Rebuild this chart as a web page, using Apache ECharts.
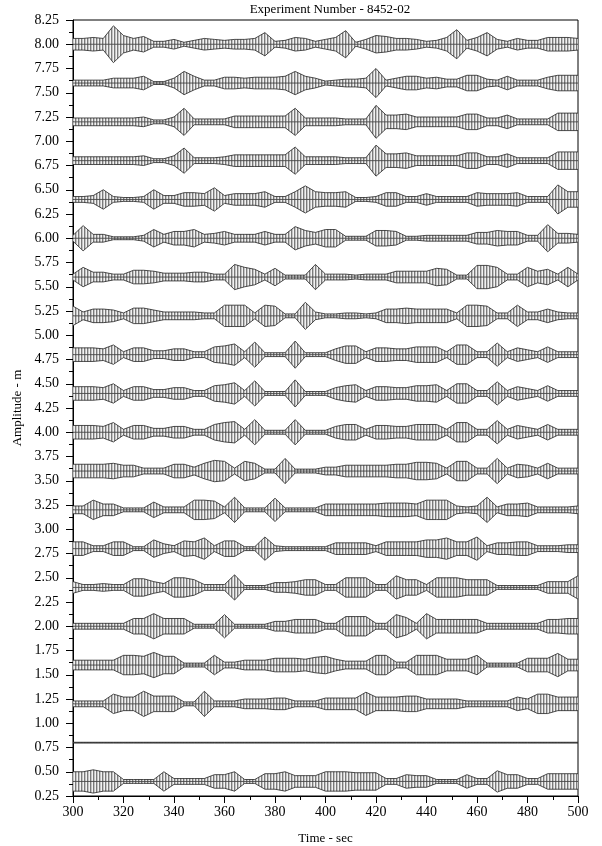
<!DOCTYPE html>
<html><head><meta charset="utf-8">
<script src="https://cdn.jsdelivr.net/npm/echarts@6/dist/echarts.min.js"></script>
<style>html,body{margin:0;padding:0;background:#fff}#c{width:602px;height:846px}</style>
</head><body><div id="c"></div>
<script>
// time samples (sec)
var times = [300,304,308,312,316,320,324,328,332,336,340,344,348,352,356,360,364,368,372,376,380,384,388,392,396,400,404,408,412,416,420,424,428,432,436,440,444,448,452,456,460,464,468,472,476,480,484,488,492,496,500];
// trace baselines (m)
var offsets = [8.0,7.6,7.2,6.8,6.4,6.0,5.6,5.2,4.8,4.4,4.0,3.6,3.2,2.8,2.4,2.0,1.6,1.2,0.8,0.4];
// envelope half-amplitudes (m)
var amp800 = [0.06,0.06,0.07,0.06,0.19,0.09,0.06,0.08,0.03,0.03,0.05,0.02,0.04,0.06,0.05,0.04,0.05,0.05,0.06,0.12,0.03,0.04,0.07,0.06,0.03,0.05,0.07,0.14,0.02,0.05,0.09,0.08,0.06,0.06,0.05,0.03,0.04,0.07,0.15,0.04,0.07,0.12,0.05,0.03,0.06,0.04,0.04,0.07,0.07,0.07,0.06];
var amp760 = [0.03,0.03,0.03,0.03,0.05,0.05,0.05,0.07,0.015,0.015,0.05,0.12,0.07,0.03,0.03,0.06,0.06,0.05,0.06,0.06,0.06,0.07,0.12,0.07,0.05,0.02,0.03,0.04,0.04,0.05,0.15,0.03,0.05,0.07,0.07,0.05,0.06,0.04,0.04,0.08,0.08,0.04,0.03,0.07,0.03,0.03,0.03,0.06,0.08,0.08,0.08];
var amp720 = [0.04,0.04,0.04,0.04,0.04,0.04,0.04,0.05,0.02,0.02,0.05,0.14,0.03,0.03,0.03,0.03,0.06,0.06,0.06,0.06,0.06,0.06,0.14,0.04,0.04,0.04,0.04,0.03,0.03,0.03,0.17,0.07,0.07,0.08,0.05,0.05,0.05,0.05,0.05,0.08,0.08,0.04,0.04,0.07,0.03,0.03,0.03,0.03,0.09,0.09,0.09];
var amp680 = [0.04,0.04,0.04,0.04,0.04,0.04,0.04,0.05,0.02,0.02,0.05,0.13,0.03,0.03,0.03,0.04,0.06,0.06,0.06,0.06,0.06,0.06,0.14,0.04,0.04,0.04,0.04,0.03,0.03,0.03,0.16,0.07,0.07,0.08,0.05,0.05,0.05,0.05,0.05,0.08,0.08,0.04,0.04,0.07,0.03,0.03,0.03,0.03,0.09,0.09,0.09];
var amp640 = [0.03,0.03,0.04,0.10,0.03,0.02,0.02,0.03,0.10,0.04,0.04,0.07,0.07,0.06,0.12,0.04,0.06,0.06,0.06,0.08,0.03,0.03,0.08,0.14,0.08,0.07,0.07,0.08,0.02,0.02,0.03,0.07,0.07,0.03,0.03,0.06,0.03,0.03,0.03,0.03,0.07,0.06,0.06,0.06,0.07,0.03,0.03,0.03,0.15,0.08,0.08];
var amp600 = [0.03,0.13,0.04,0.04,0.015,0.015,0.015,0.03,0.09,0.04,0.07,0.07,0.09,0.04,0.05,0.07,0.04,0.04,0.04,0.07,0.04,0.04,0.12,0.08,0.06,0.09,0.09,0.02,0.02,0.02,0.08,0.08,0.07,0.02,0.02,0.03,0.03,0.03,0.03,0.03,0.06,0.06,0.08,0.07,0.07,0.03,0.03,0.14,0.05,0.05,0.04];
var amp560 = [0.03,0.10,0.05,0.05,0.03,0.03,0.07,0.07,0.06,0.04,0.04,0.04,0.05,0.05,0.03,0.03,0.13,0.10,0.08,0.03,0.09,0.02,0.02,0.02,0.13,0.03,0.03,0.03,0.02,0.03,0.03,0.03,0.06,0.06,0.06,0.06,0.09,0.08,0.02,0.02,0.12,0.12,0.10,0.03,0.03,0.10,0.06,0.08,0.03,0.10,0.03];
var amp520 = [0.10,0.04,0.07,0.07,0.06,0.03,0.08,0.08,0.06,0.04,0.04,0.04,0.04,0.03,0.03,0.11,0.11,0.11,0.03,0.11,0.10,0.02,0.02,0.14,0.04,0.02,0.02,0.03,0.03,0.02,0.03,0.07,0.07,0.08,0.07,0.07,0.07,0.07,0.03,0.11,0.11,0.10,0.03,0.03,0.11,0.04,0.04,0.07,0.04,0.03,0.03];
var amp480 = [0.07,0.07,0.07,0.06,0.10,0.03,0.07,0.07,0.04,0.04,0.06,0.06,0.03,0.03,0.08,0.09,0.11,0.03,0.13,0.02,0.02,0.02,0.14,0.02,0.02,0.02,0.06,0.09,0.09,0.03,0.07,0.07,0.06,0.06,0.08,0.08,0.08,0.03,0.10,0.10,0.03,0.03,0.12,0.03,0.07,0.05,0.03,0.08,0.03,0.03,0.03];
var amp440 = [0.07,0.07,0.07,0.06,0.10,0.03,0.07,0.07,0.04,0.04,0.06,0.06,0.03,0.03,0.08,0.09,0.11,0.03,0.13,0.02,0.02,0.02,0.14,0.02,0.02,0.02,0.06,0.08,0.09,0.03,0.07,0.07,0.06,0.06,0.08,0.08,0.09,0.03,0.10,0.10,0.03,0.03,0.12,0.03,0.07,0.05,0.03,0.08,0.03,0.03,0.03];
var amp400 = [0.07,0.07,0.07,0.06,0.10,0.03,0.07,0.07,0.04,0.04,0.06,0.06,0.03,0.03,0.08,0.10,0.11,0.03,0.13,0.02,0.02,0.02,0.13,0.02,0.02,0.02,0.06,0.08,0.08,0.03,0.07,0.07,0.06,0.06,0.08,0.08,0.08,0.03,0.10,0.10,0.03,0.03,0.12,0.03,0.07,0.05,0.03,0.08,0.03,0.03,0.03];
var amp360 = [0.07,0.07,0.07,0.07,0.08,0.06,0.06,0.03,0.03,0.03,0.07,0.07,0.04,0.08,0.11,0.10,0.03,0.10,0.08,0.02,0.02,0.13,0.02,0.02,0.02,0.04,0.04,0.06,0.06,0.06,0.06,0.06,0.07,0.07,0.09,0.09,0.08,0.03,0.10,0.10,0.03,0.03,0.13,0.03,0.07,0.06,0.03,0.08,0.03,0.03,0.03];
var amp320 = [0.04,0.04,0.10,0.06,0.06,0.02,0.02,0.02,0.08,0.03,0.03,0.03,0.10,0.10,0.09,0.03,0.13,0.02,0.02,0.02,0.12,0.02,0.02,0.02,0.02,0.06,0.06,0.06,0.06,0.06,0.06,0.07,0.07,0.07,0.06,0.10,0.10,0.10,0.04,0.03,0.04,0.13,0.03,0.06,0.06,0.07,0.03,0.03,0.03,0.03,0.04];
var amp280 = [0.07,0.07,0.03,0.03,0.07,0.07,0.02,0.02,0.09,0.05,0.03,0.08,0.07,0.11,0.03,0.08,0.08,0.02,0.02,0.12,0.03,0.02,0.02,0.02,0.02,0.02,0.06,0.06,0.06,0.06,0.03,0.07,0.07,0.07,0.07,0.09,0.09,0.11,0.07,0.07,0.12,0.03,0.06,0.06,0.07,0.07,0.03,0.03,0.03,0.04,0.04];
var amp240 = [0.06,0.03,0.03,0.04,0.03,0.03,0.09,0.09,0.06,0.04,0.10,0.10,0.08,0.03,0.03,0.03,0.13,0.02,0.02,0.02,0.05,0.05,0.06,0.08,0.08,0.03,0.03,0.10,0.10,0.10,0.03,0.03,0.12,0.08,0.08,0.03,0.10,0.10,0.10,0.08,0.08,0.08,0.02,0.02,0.02,0.02,0.02,0.06,0.06,0.06,0.12];
var amp200 = [0.03,0.03,0.03,0.03,0.03,0.03,0.08,0.08,0.13,0.08,0.08,0.08,0.02,0.02,0.02,0.12,0.02,0.02,0.02,0.02,0.05,0.05,0.07,0.07,0.07,0.03,0.03,0.10,0.10,0.10,0.03,0.03,0.12,0.09,0.03,0.13,0.07,0.07,0.07,0.07,0.07,0.03,0.03,0.03,0.03,0.03,0.03,0.07,0.07,0.08,0.08];
var amp160 = [0.05,0.05,0.05,0.05,0.05,0.10,0.10,0.09,0.13,0.09,0.09,0.02,0.02,0.02,0.10,0.03,0.03,0.05,0.05,0.05,0.07,0.07,0.07,0.06,0.08,0.09,0.06,0.04,0.04,0.04,0.10,0.10,0.03,0.03,0.10,0.10,0.10,0.06,0.06,0.06,0.10,0.02,0.02,0.02,0.02,0.07,0.07,0.07,0.12,0.06,0.06];
var amp120 = [0.03,0.03,0.03,0.03,0.10,0.07,0.07,0.13,0.08,0.08,0.08,0.02,0.02,0.13,0.03,0.03,0.03,0.05,0.05,0.05,0.06,0.06,0.03,0.03,0.03,0.06,0.06,0.06,0.06,0.12,0.07,0.07,0.07,0.08,0.08,0.05,0.05,0.05,0.05,0.03,0.03,0.03,0.03,0.03,0.07,0.05,0.10,0.10,0.07,0.07,0.07];
var amp080 = [0.004,0.004,0.004,0.004,0.004,0.004,0.004,0.004,0.004,0.004,0.004,0.004,0.004,0.004,0.004,0.004,0.004,0.004,0.004,0.004,0.004,0.004,0.004,0.004,0.004,0.004,0.004,0.004,0.004,0.004,0.004,0.004,0.004,0.004,0.004,0.004,0.004,0.004,0.004,0.004,0.004,0.004,0.004,0.004,0.004,0.004,0.004,0.004,0.004,0.004,0.004];
var amp040 = [0.10,0.10,0.12,0.10,0.10,0.02,0.02,0.02,0.02,0.10,0.03,0.03,0.03,0.03,0.07,0.07,0.10,0.02,0.02,0.08,0.08,0.10,0.06,0.06,0.06,0.10,0.10,0.10,0.09,0.09,0.09,0.03,0.03,0.07,0.06,0.06,0.02,0.02,0.02,0.07,0.03,0.03,0.11,0.07,0.07,0.03,0.03,0.08,0.08,0.08,0.08];
var amps = [amp800,amp760,amp720,amp680,amp640,amp600,amp560,amp520,amp480,amp440,amp400,amp360,amp320,amp280,amp240,amp200,amp160,amp120,amp080,amp040];
var xTicks = [300,320,340,360,380,400,420,440,460,480,500];

// striped fill pattern to suggest dense oscillation
var cv = document.createElement('canvas'); cv.width = 3; cv.height = 2;
var cx = cv.getContext('2d');
cx.fillStyle = '#7a7a7a'; cx.fillRect(0,0,1,2);
cx.fillStyle = '#c4c4c4'; cx.fillRect(1,0,1,2);
cx.fillStyle = '#f2f2f2'; cx.fillRect(2,0,1,2);

var FONT = '"Liberation Serif","Times New Roman",serif';
var series = [];
offsets.forEach(function(off, k){
  var a = amps[k];
  [1,-1].forEach(function(sgn){
    series.push({
      type: 'line', showSymbol: false, silent: true, animation: false,
      data: times.map(function(t,i){ return [t, off + sgn*a[i]]; }),
      lineStyle: {color: '#222', width: 0.8},
      areaStyle: {origin: off, color: {image: cv, repeat: 'repeat'}, opacity: 1}
    });
  });
  series.push({
    type: 'line', showSymbol: false, silent: true, animation: false,
    data: [[times[0], off], [times[times.length-1], off]],
    lineStyle: {color: '#333', width: 0.8}
  });
});

var chart = echarts.init(document.getElementById('c'), null, {renderer: 'canvas'});
chart.setOption({
  backgroundColor: '#fff',
  animation: false,
  title: {text: 'Experiment Number - 8452-02', left: 325, textAlign: 'center', top: -2,
    textStyle: {fontFamily: FONT, fontSize: 13, fontWeight: 'normal', color: '#000'}},
  grid: {left: 73, right: 24, top: 20, bottom: 50, outerBoundsMode: 'none', containLabel: false,
    show: true, borderColor: '#000', borderWidth: 1, backgroundColor: 'transparent'},
  xAxis: {type: 'value', min: 300, max: 500, interval: 20,
    name: 'Time - sec', nameLocation: 'middle', nameGap: 36,
    nameTextStyle: {fontFamily: FONT, fontSize: 13, color: '#000'},
    axisLine: {lineStyle: {color: '#000', width: 1}},
    axisTick: {length: 7, lineStyle: {color: '#000'}},
    minorTick: {show: true, splitNumber: 2, length: 4, lineStyle: {color: '#000'}},
    splitLine: {show: false},
    axisLabel: {fontFamily: FONT, fontSize: 14, color: '#000', margin: 9,
      formatter: function(v){ return xTicks.indexOf(v) >= 0 ? String(v) : ''; }}},
  yAxis: {type: 'value', min: 0.25, max: 8.25, interval: 0.25,
    name: 'Amplitude - m', nameLocation: 'middle', nameGap: 47,
    nameTextStyle: {fontFamily: FONT, fontSize: 13, color: '#000'},
    axisLine: {lineStyle: {color: '#000', width: 1}},
    axisTick: {length: 7, lineStyle: {color: '#000'}},
    minorTick: {show: true, splitNumber: 2, length: 4, lineStyle: {color: '#000'}},
    splitLine: {show: false},
    axisLabel: {fontFamily: FONT, fontSize: 14, color: '#000', margin: 14,
      formatter: function(v){ return v.toFixed(2); }}},
  series: series
});
</script>
</body></html>
